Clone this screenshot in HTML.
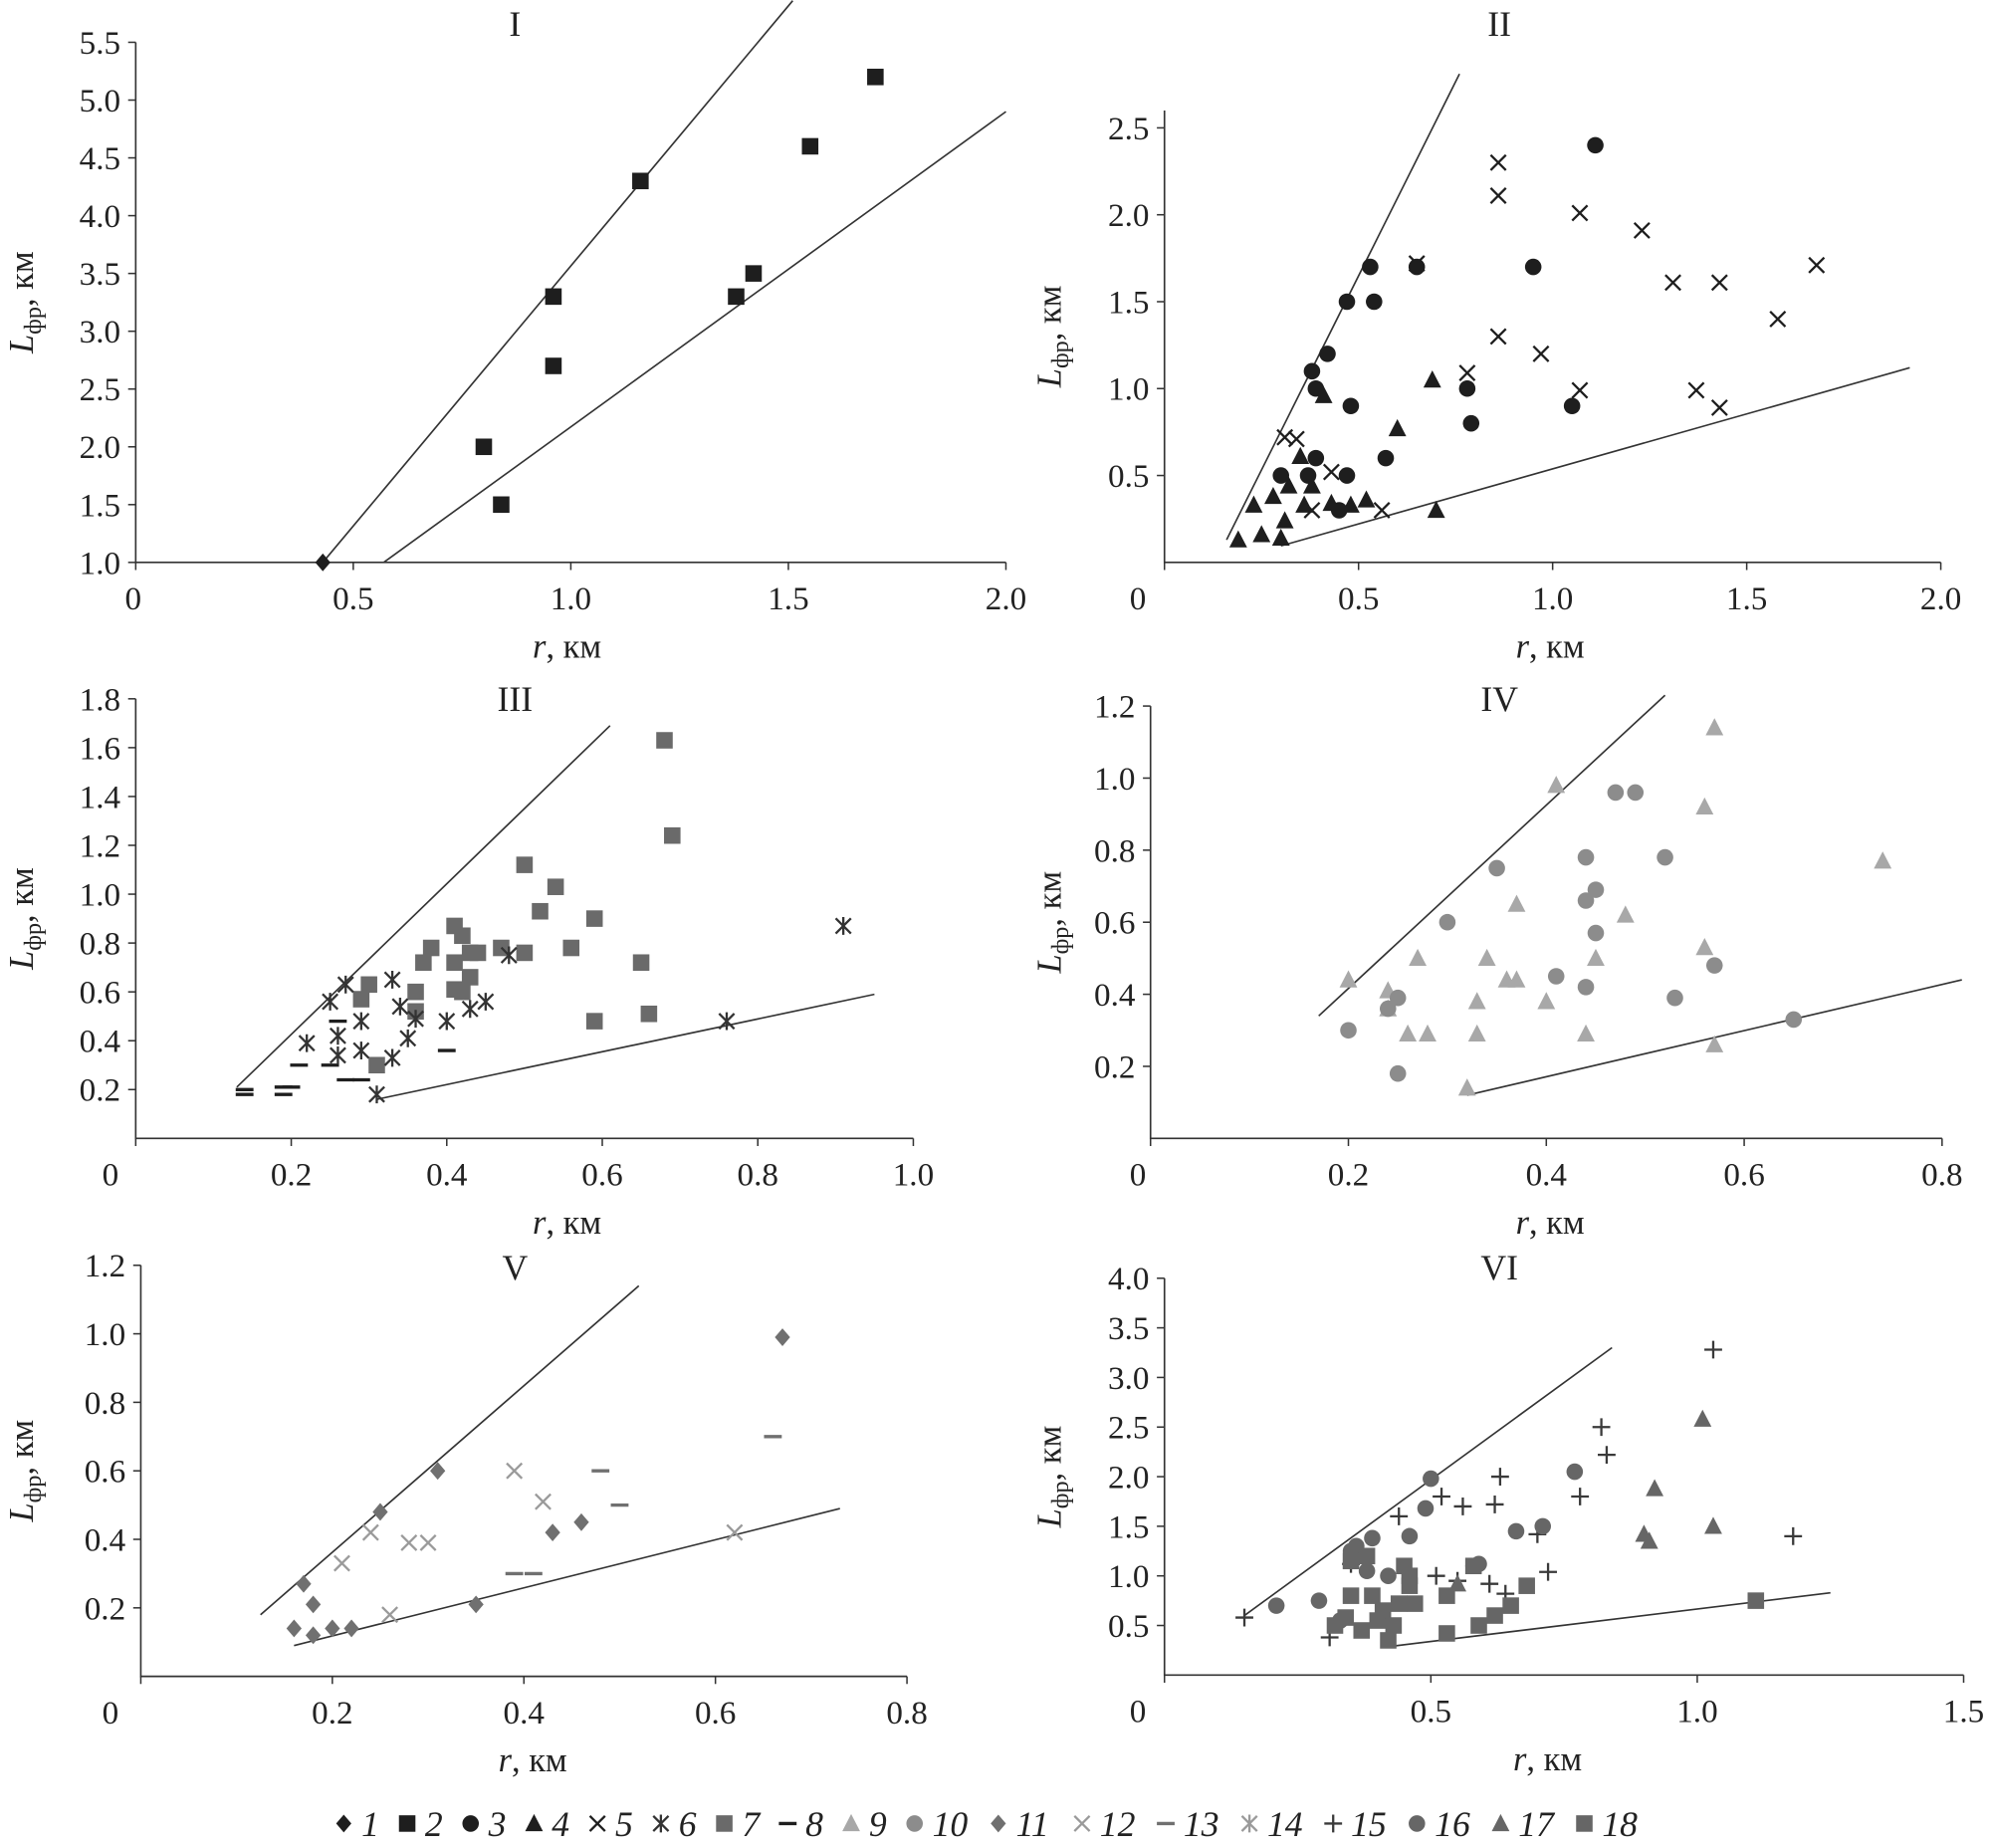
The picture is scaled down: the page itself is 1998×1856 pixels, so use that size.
<!DOCTYPE html>
<html><head><meta charset="utf-8"><style>
html,body{margin:0;padding:0;background:#fff}
svg{display:block}
text{font-family:"Liberation Serif",serif;fill:#222}
</style></head><body>
<svg id="c" width="1998" height="1856" viewBox="0 0 1568 1456" xmlns="http://www.w3.org/2000/svg"></svg>
<script>
// ---- data ----
const s1=[[0.43,1.0]];
const s2=[[0.80,2.0],[0.84,1.5],[0.96,3.3],[0.96,2.7],[1.16,4.3],[1.38,3.3],[1.42,3.5],[1.55,4.6],[1.70,5.2]];
const lines1=[[[0.43,1.0],[1.51,5.86]],[[0.57,1.0],[2.0,4.9]]];
const s3=[[0.53,1.7],[0.65,1.7],[0.47,1.5],[0.54,1.5],[0.42,1.2],[0.38,1.1],[0.39,1.0],[0.48,0.9],[0.30,0.5],[0.37,0.5],[0.39,0.6],[0.47,0.5],[0.45,0.3],[0.57,0.6],[0.78,1.0],[0.79,0.8],[0.95,1.7],[1.05,0.9],[1.11,2.4]];
const s4=[[0.19,0.13],[0.23,0.33],[0.25,0.16],[0.28,0.38],[0.30,0.14],[0.31,0.24],[0.32,0.44],[0.35,0.61],[0.36,0.33],[0.38,0.44],[0.41,0.96],[0.43,0.34],[0.48,0.33],[0.52,0.36],[0.60,0.77],[0.69,1.05],[0.70,0.30]];
const s5=[[0.31,0.72],[0.34,0.71],[0.38,0.30],[0.43,0.52],[0.56,0.30],[0.65,1.72],[0.78,1.09],[0.86,2.30],[0.86,2.11],[0.86,1.30],[0.97,1.20],[1.07,2.01],[1.07,0.99],[1.23,1.91],[1.31,1.61],[1.37,0.99],[1.43,1.61],[1.43,0.89],[1.58,1.40],[1.68,1.71]];
const lines2=[[[0.16,0.13],[0.76,2.81]],[[0.30,0.095],[1.92,1.12]]];
const s7=[[0.31,0.30],[0.29,0.57],[0.30,0.63],[0.36,0.60],[0.36,0.52],[0.37,0.72],[0.38,0.78],[0.41,0.87],[0.42,0.83],[0.41,0.72],[0.41,0.61],[0.42,0.60],[0.43,0.66],[0.43,0.76],[0.44,0.76],[0.47,0.78],[0.50,0.76],[0.50,1.12],[0.52,0.93],[0.54,1.03],[0.56,0.78],[0.59,0.90],[0.59,0.48],[0.65,0.72],[0.66,0.51],[0.68,1.63],[0.69,1.24]];
const s8=[[0.14,0.20],[0.14,0.18],[0.19,0.21],[0.20,0.21],[0.19,0.18],[0.21,0.30],[0.25,0.30],[0.26,0.48],[0.27,0.24],[0.29,0.24],[0.40,0.36]];
const s6=[[0.22,0.39],[0.25,0.56],[0.26,0.42],[0.26,0.34],[0.27,0.63],[0.29,0.48],[0.29,0.36],[0.31,0.18],[0.33,0.65],[0.33,0.33],[0.34,0.54],[0.35,0.41],[0.36,0.49],[0.40,0.48],[0.43,0.53],[0.45,0.56],[0.48,0.75],[0.76,0.48],[0.91,0.87]];
const lines3=[[[0.13,0.21],[0.61,1.69]],[[0.31,0.16],[0.95,0.59]]];
const s9=[[0.20,0.44],[0.24,0.41],[0.24,0.36],[0.26,0.29],[0.27,0.50],[0.28,0.29],[0.32,0.14],[0.33,0.38],[0.33,0.29],[0.34,0.50],[0.36,0.44],[0.37,0.44],[0.37,0.65],[0.40,0.38],[0.41,0.98],[0.44,0.29],[0.45,0.50],[0.48,0.62],[0.56,0.92],[0.56,0.53],[0.57,0.26],[0.57,1.14],[0.74,0.77]];
const s10=[[0.20,0.30],[0.24,0.36],[0.25,0.18],[0.25,0.39],[0.30,0.60],[0.35,0.75],[0.41,0.45],[0.44,0.78],[0.44,0.66],[0.44,0.42],[0.45,0.69],[0.45,0.57],[0.47,0.96],[0.49,0.96],[0.52,0.78],[0.53,0.39],[0.57,0.48],[0.65,0.33]];
const lines4=[[[0.17,0.34],[0.52,1.23]],[[0.32,0.12],[0.82,0.44]]];
const s11=[[0.16,0.14],[0.17,0.27],[0.18,0.21],[0.18,0.12],[0.20,0.14],[0.22,0.14],[0.25,0.48],[0.31,0.60],[0.35,0.21],[0.43,0.42],[0.46,0.45],[0.67,0.99]];
const s12=[[0.21,0.33],[0.24,0.42],[0.26,0.18],[0.28,0.39],[0.30,0.39],[0.39,0.60],[0.42,0.51],[0.62,0.42]];
const s13=[[0.39,0.30],[0.41,0.30],[0.48,0.60],[0.50,0.50],[0.66,0.70]];
const lines5=[[[0.125,0.18],[0.52,1.14]],[[0.16,0.09],[0.73,0.49]]];
const s15=[[0.15,0.58],[0.31,0.38],[0.35,1.12],[0.44,1.60],[0.51,1.00],[0.52,1.80],[0.56,1.70],[0.61,0.92],[0.62,1.72],[0.63,2.00],[0.64,0.82],[0.70,1.42],[0.72,1.04],[0.78,1.80],[0.82,2.50],[0.83,2.22],[1.03,3.28],[1.18,1.40],[0.55,0.95]];
const s16=[[0.21,0.70],[0.29,0.75],[0.33,0.55],[0.35,1.25],[0.36,1.30],[0.38,1.05],[0.39,1.38],[0.42,1.00],[0.46,1.40],[0.49,1.68],[0.50,1.98],[0.58,1.10],[0.59,1.12],[0.66,1.45],[0.71,1.50],[0.77,2.05]];
const s17=[[0.55,0.92],[0.90,1.42],[0.91,1.35],[0.92,1.88],[1.01,2.58],[1.03,1.50]];
const s18=[[0.32,0.50],[0.34,0.58],[0.35,0.80],[0.35,1.15],[0.37,0.45],[0.38,1.20],[0.39,0.80],[0.40,0.55],[0.41,0.65],[0.42,0.35],[0.43,0.50],[0.44,0.72],[0.45,1.10],[0.46,1.00],[0.46,0.90],[0.47,0.72],[0.53,0.80],[0.53,0.42],[0.58,1.10],[0.59,0.50],[0.62,0.60],[0.65,0.70],[0.68,0.90],[1.11,0.75]];
const lines6=[[[0.15,0.60],[0.84,3.30]],[[0.41,0.28],[1.25,0.83]]];
const xt1=["0","0.5","1.0","1.5","2.0"], yt1=["1.0","1.5","2.0","2.5","3.0","3.5","4.0","4.5","5.0","5.5"];
const yt2=["0.5","1.0","1.5","2.0","2.5"];
const xt3=["0","0.2","0.4","0.6","0.8","1.0"], yt3=["0.2","0.4","0.6","0.8","1.0","1.2","1.4","1.6","1.8"];
const xt4=["0","0.2","0.4","0.6","0.8"], yt4=["0.2","0.4","0.6","0.8","1.0","1.2"];
const yt5=["0.2","0.4","0.6","0.8","1.0","1.2"];
const xt6=["0","0.5","1.0","1.5"], yt6=["0.5","1.0","1.5","2.0","2.5","3.0","3.5","4.0"];

const NS="http://www.w3.org/2000/svg", svg=document.getElementById('c');
function el(t,a,p){const e=document.createElementNS(NS,t);for(const k in a)e.setAttribute(k,a[k]);(p||svg).appendChild(e);return e;}
function marker(g,type,x,y,col){
  let e;
  if(type==='sq')e=el('rect',{x:x-6.5,y:y-6.5,width:13,height:13,fill:col},g);
  else if(type==='ci')e=el('circle',{cx:x,cy:y,r:6.5,fill:col},g);
  else if(type==='tr')e=el('polygon',{points:`${x},${y-7.5} ${x+7},${y+6} ${x-7},${y+6}`,fill:col},g);
  else if(type==='di')e=el('polygon',{points:`${x},${y-7} ${x+6},${y} ${x},${y+7} ${x-6},${y}`,fill:col},g);
  else if(type==='x')e=el('path',{d:`M${x-6},${y-6}L${x+6},${y+6}M${x-6},${y+6}L${x+6},${y-6}`,stroke:col,'stroke-width':1.8,fill:'none'},g);
  else if(type==='as')e=el('path',{d:`M${x-6},${y-6}L${x+6},${y+6}M${x-6},${y+6}L${x+6},${y-6}M${x},${y-7}L${x},${y+7}`,stroke:col,'stroke-width':1.8,fill:'none'},g);
  else if(type==='da')e=el('path',{d:`M${x-7},${y}L${x+7},${y}`,stroke:col,'stroke-width':2.6,fill:'none'},g);
  else if(type==='pl')e=el('path',{d:`M${x-7},${y}L${x+7},${y}M${x},${y-7}L${x},${y+7}`,stroke:col,'stroke-width':1.8,fill:'none'},g);
  
  
}
function panel(P){
  const g=el('g',{});
  
  
  const X=v=>P.ox+v*P.sx, Y=v=>P.oy-v*P.sy;
  const yb=Y(P.ymin), xr=X(P.xmax), yt=Y(P.ymax);
  const ax=el('path',{d:`M${P.ox},${yt}L${P.ox},${yb}L${xr},${yb}`,stroke:'#333','stroke-width':1.3,fill:'none'},g);
  
  P.xt.forEach(t=>{const v=parseFloat(t),x=X(v);
    el('path',{d:`M${x},${yb}L${x},${yb+6}`,stroke:'#333','stroke-width':1.2},g);
    const tx=el('text',{x:v===0?P.zx:x,y:yb+37,'font-size':26,'text-anchor':'middle'},g);tx.textContent=t;
    });
  P.yt.forEach(t=>{const y=Y(parseFloat(t));
    el('path',{d:`M${P.ox-6},${y}L${P.ox},${y}`,stroke:'#333','stroke-width':1.2},g);
    const tx=el('text',{x:P.ox-12,y:y+9,'font-size':26,'text-anchor':'end'},g);tx.textContent=t;
    });
  P.lines.forEach(L=>{const l=el('line',{x1:X(L[0][0]),y1:Y(L[0][1]),x2:X(L[1][0]),y2:Y(L[1][1]),stroke:'#333','stroke-width':1.3},g);
    });
  P.series.forEach(S=>S.d.forEach(p=>marker(g,S.t,X(p[0]),Y(p[1]),S.c)));
  const ti=el('text',{x:P.tx,y:P.ty,'font-size':28,'text-anchor':'middle'},g);ti.textContent=P.name;
  
  const xl=el('text',{x:P.xlx,y:yb+75,'font-size':27,'text-anchor':'middle'},g);
  xl.innerHTML='<tspan font-style="italic">r</tspan>, км';
  
  const yc=(yb+yt)/2;
  const yl=el('text',{x:0,y:0,'font-size':27,'text-anchor':'middle',transform:`translate(${P.ylx},${yc}) rotate(-90)`},g);
  yl.innerHTML='<tspan font-style="italic">L</tspan><tspan font-size="19" dy="6">фр</tspan><tspan dy="-6">, км</tspan>';
  
}
const K='#1e1e1e';
panel({name:'I',ox:107,sx:343,oy:534.1,sy:91.1,xmax:2.0,ymin:1.0,ymax:5.5,xt:xt1,yt:yt1,zx:105,tx:406,ty:28,xlx:447,ylx:26,lines:lines1,
  series:[{d:s1,t:'di',c:K},{d:s2,t:'sq',c:K}]});
panel({name:'II',ox:918,sx:306,oy:443,sy:137,xmax:2.0,ymin:0,ymax:2.6,xt:xt1,yt:yt2,zx:897,tx:1182,ty:28,xlx:1222,ylx:836,lines:lines2,
  series:[{d:s3,t:'ci',c:K},{d:s4,t:'tr',c:K},{d:s5,t:'x',c:K}]});
panel({name:'III',ox:107,sx:613,oy:897,sy:192.5,xmax:1.0,ymin:0,ymax:1.8,xt:xt3,yt:yt3,zx:87,tx:406,ty:560,xlx:447,ylx:26,lines:lines3,
  series:[{d:s7,t:'sq',c:'#6a6a6a'},{d:s8,t:'da',c:K},{d:s6,t:'as',c:'#333'}]});
panel({name:'IV',ox:907,sx:780,oy:897,sy:284,xmax:0.8,ymin:0,ymax:1.2,xt:xt4,yt:yt4,zx:897,tx:1182,ty:560,xlx:1222,ylx:836,lines:lines4,
  series:[{d:s9,t:'tr',c:'#a8a8a8'},{d:s10,t:'ci',c:'#8c8c8c'}]});
panel({name:'V',ox:111,sx:755,oy:1321,sy:270,xmax:0.8,ymin:0,ymax:1.2,xt:xt4,yt:yt5,zx:87,tx:406,ty:1008,xlx:420,ylx:26,lines:lines5,
  series:[{d:s11,t:'di',c:'#707070'},{d:s12,t:'x',c:'#9a9a9a'},{d:s13,t:'da',c:'#707070'}]});
panel({name:'VI',ox:918,sx:420,oy:1320,sy:78.2,xmax:1.5,ymin:0,ymax:4.0,xt:xt6,yt:yt6,zx:897,tx:1182,ty:1008,xlx:1220,ylx:836,lines:lines6,
  series:[{d:s15,t:'pl',c:'#3a3a3a'},{d:s16,t:'ci',c:'#666'},{d:s17,t:'tr',c:'#666'},{d:s18,t:'sq',c:'#666'}]});
// legend
const leg=[['di',K,'1'],['sq',K,'2'],['ci',K,'3'],['tr',K,'4'],['x',K,'5'],['as','#333','6'],['sq','#6a6a6a','7'],['da',K,'8'],['tr','#a8a8a8','9'],['ci','#8c8c8c','10'],['di','#707070','11'],['x','#9a9a9a','12'],['da','#707070','13'],['as','#9a9a9a','14'],['pl','#3a3a3a','15'],['ci','#666','16'],['tr','#666','17'],['sq','#666','18']];
const lg=el('g',{});
let lx=271;
leg.forEach(L=>{marker(lg,L[0],lx,1437,L[1]);
  const t=el('text',{x:lx+14,y:1447,'font-size':28,'font-style':'italic'},lg);t.textContent=L[2];
  
  lx+=L[2].length>1?66:50;});
</script>
</body></html>
